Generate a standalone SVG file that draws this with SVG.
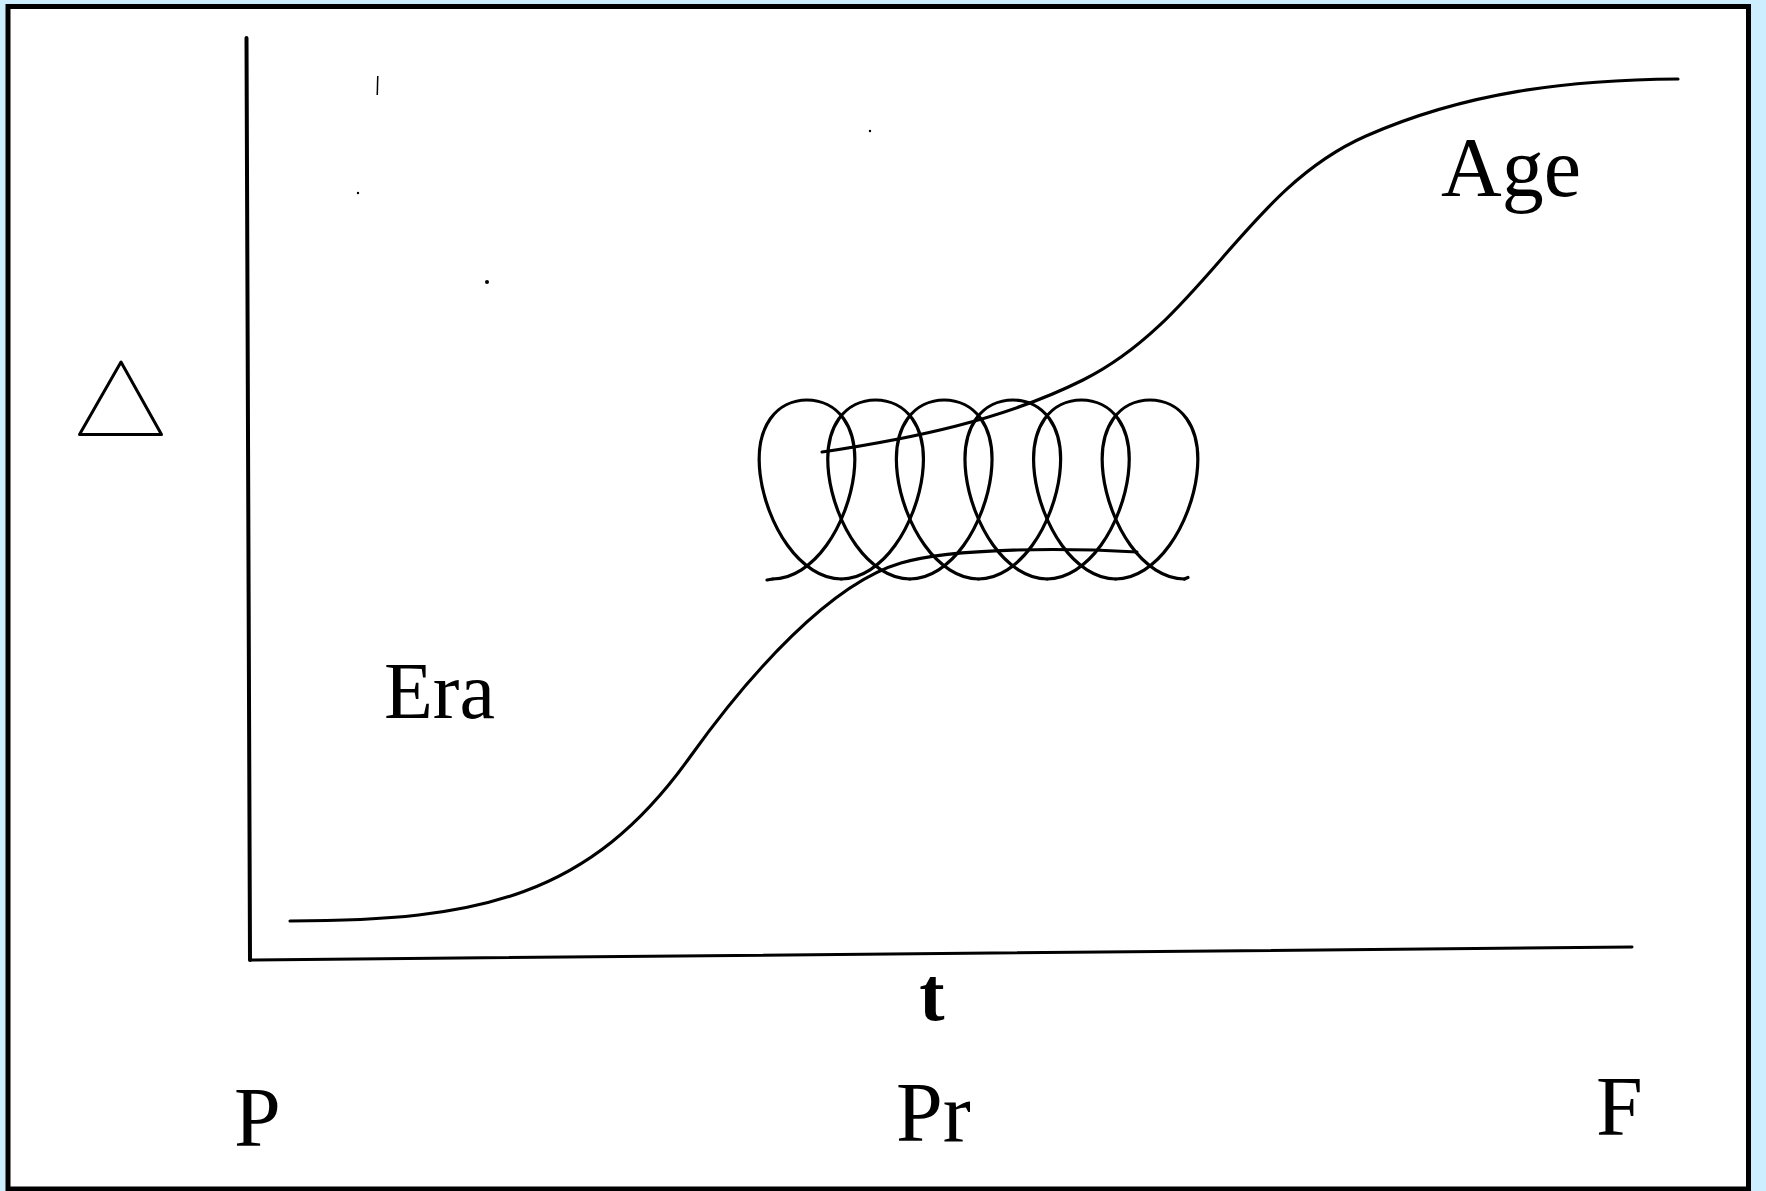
<svg xmlns="http://www.w3.org/2000/svg" xmlns:xlink="http://www.w3.org/1999/xlink" width="1766" height="1191" viewBox="0 0 1766 1191">
<style>
.ln{fill:none;stroke:#000;stroke-linecap:round;stroke-linejoin:round}
.coil{fill:none;stroke:#000;stroke-width:3.2;stroke-linecap:round}
.lbl{font-family:"Liberation Serif","Times New Roman",serif;fill:#000}
</style>
<defs>
<path id="coil" class="coil" d="M772.7,579 C792.31,579 811.82,565.79 826.53,545.29 C841.24,524.79 850.99,497.93 853.85,474.5 C856.71,451.07 852.67,431.35 843.68,418.71 C834.69,406.07 820.9,400 807,400 C793.1,400 779.32,406.07 770.33,418.71 C761.34,431.35 757.29,451.07 760.15,474.5 C763.01,497.93 772.77,524.79 787.48,545.29 C802.19,565.79 821.69,579 841.3,579"/>
</defs>
<rect x="0" y="0" width="1766" height="1191" fill="#cceeff"/>
<rect id="frame" x="8" y="6.5" width="1740.5" height="1182.5" fill="#fff" stroke="#000" stroke-width="5"/>
<g id="axes">
<path class="ln" stroke-width="4" d="M246.5,38 L250,960"/>
<path class="ln" stroke-width="3" d="M250,960 L1632,947"/>
</g>
<g id="curves">
<path id="era-curve" class="ln" stroke-width="3.1" d="M290,921 C480,921 590,897 690,757 C750,673 831,583.3 901,563 C955,547.3 1067,548 1137,552"/>
<path id="age-curve" class="ln" stroke-width="3.1" d="M822,452 C912,438.5 1003,420 1083,380 C1203,320 1246,188.8 1366,136 C1466,92 1568,80 1678,79"/>
<g id="loops">
<path class="coil" d="M767,580 L772.7,579"/>
<use xlink:href="#coil" href="#coil"/>
<use xlink:href="#coil" href="#coil" transform="translate(68.6,0)"/>
<use xlink:href="#coil" href="#coil" transform="translate(137.2,0)"/>
<use xlink:href="#coil" href="#coil" transform="translate(205.8,0)"/>
<use xlink:href="#coil" href="#coil" transform="translate(274.4,0)"/>
<use xlink:href="#coil" href="#coil" transform="translate(343,0)"/>
<path class="coil" d="M1184.3,579 L1188,577.5"/>
</g>
</g>
<g id="delta">
<path class="ln" stroke-width="3" d="M121,362 L79.5,434.5 L161.5,434.5 Z"/>
</g>
<g id="specks" fill="#000">
<path d="M377,76 L378.5,76 L378,95 L376.5,95 Z"/>
<circle cx="358" cy="193" r="1.2"/>
<circle cx="487" cy="282" r="2"/>
<circle cx="870" cy="131" r="1.2"/>
</g>
<g id="label-age"><text class="lbl" x="1441" y="196" font-size="84">Age</text></g>
<g id="label-era"><text class="lbl" x="384" y="718" font-size="80">Era</text></g>
<g id="label-t"><text class="lbl" x="932" y="1020" font-size="76" font-weight="bold" text-anchor="middle">t</text></g>
<g id="label-p"><text class="lbl" x="234" y="1146" font-size="84">P</text></g>
<g id="label-pr"><text class="lbl" x="896" y="1141" font-size="84">Pr</text></g>
<g id="label-f"><text class="lbl" x="1596" y="1135" font-size="84">F</text></g>
</svg>
